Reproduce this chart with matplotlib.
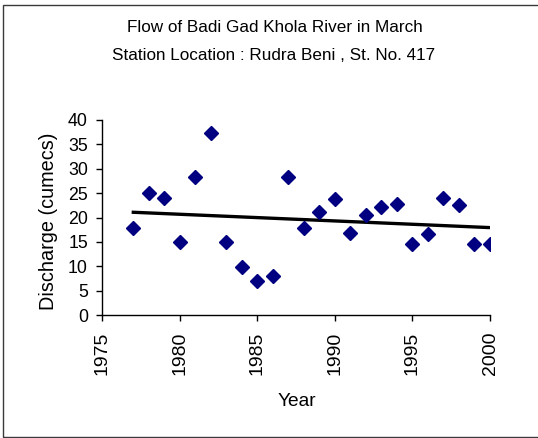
import numpy as np
import matplotlib
matplotlib.use("Agg")
import matplotlib.pyplot as plt
from matplotlib.patches import Rectangle

plt.rcParams['font.family'] = ['Liberation Sans', 'DejaVu Sans']

# March discharge at Rudra Beni (St. No. 417)
years = [1977, 1978, 1979, 1980, 1981, 1982, 1983, 1984, 1985, 1986, 1987, 1988,
         1989, 1990, 1991, 1992, 1993, 1994, 1995, 1996, 1997, 1998, 1999, 2000]
discharge = [17.8, 25.1, 24.1, 14.9, 28.4, 37.4, 14.9, 9.9, 6.9, 8.0, 28.4, 17.8,
             21.2, 23.8, 16.9, 20.5, 22.2, 22.8, 14.6, 16.6, 24.1, 22.5, 14.6, 14.6]

x_ticks = [1975, 1980, 1985, 1990, 1995, 2000]
y_ticks = [0, 5, 10, 15, 20, 25, 30, 35, 40]

title_lines = ["Flow of Badi Gad Khola River in March",
               "Station Location : Rudra Beni , St. No. 417"]
x_label = "Year"
y_label = "Discharge (cumecs)"

W, H = 538, 438
fig = plt.figure(figsize=(W / 100, H / 100), dpi=100)

# outer chart border
fig.patches.append(Rectangle((3 / W, 1 - 437 / H), 1.0, (437 - 5) / H,
                             transform=fig.transFigure, fill=False,
                             edgecolor='#3a3a3a', linewidth=1.0, clip_on=False))

left, right, bottom, top = 102.3 / W, 490 / W, 1 - 315 / H, 1 - 120 / H
ax = fig.add_axes([left, bottom, right - left, top - bottom])

ax.plot(years, discharge, linestyle='none', marker='D', markersize=6.8,
        color='#000080', markeredgecolor='#000080', zorder=3)

# linear trend line
coef = np.polyfit(years, discharge, 1)
tx = np.array([years[0], years[-1]])
ax.plot(tx, np.polyval(coef, tx), color='black', linewidth=2.4, zorder=2)

ax.set_xlim(1975, 2000)
ax.set_ylim(0, 40)
ax.set_xticks(x_ticks)
ax.set_yticks(y_ticks)
ax.set_xticklabels([str(t) for t in x_ticks], rotation=90, fontsize=14)
ax.set_yticklabels([str(t) for t in y_ticks], fontsize=12.8)
ax.tick_params(axis='both', direction='out', length=4, width=1, color='black')
ax.tick_params(axis='x', pad=7.8)
ax.tick_params(axis='y', pad=6.3)

for s in ['top', 'right']:
    ax.spines[s].set_visible(False)
for s in ['left', 'bottom']:
    ax.spines[s].set_linewidth(1)
    ax.spines[s].set_color('black')

fig.text(49 / W, 1 - 221.5 / H, y_label, rotation=90, ha='center', va='center', fontsize=14.3)
fig.text(297 / W, 1 - 402 / H, x_label, ha='center', va='center', fontsize=13.8)

fig.text(275 / W, 1 - 28 / H, title_lines[0], ha='center', va='center', fontsize=12.3)
fig.text(274 / W, 1 - 56 / H, title_lines[1], ha='center', va='center', fontsize=12.3)

fig.savefig('out.png', dpi=100, facecolor='white')
